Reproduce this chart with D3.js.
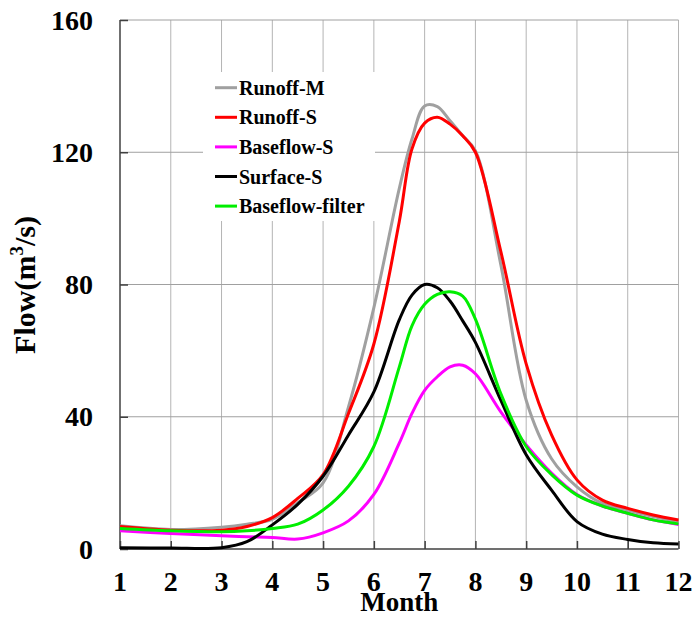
<!DOCTYPE html>
<meta charset="utf-8">
<style>
body { margin: 0; background: #fff; }
svg { display: block; background: #fff; }
text { font-family: "Liberation Serif", "Times New Roman", serif; font-weight: bold; fill: #000; }
.tick-label { font-size: 28px; }
.legend text { font-size: 20px; }
</style>
<body>
<div id="chart"></div>
<script src="https://cdn.jsdelivr.net/npm/d3@7"></script>
<script>
// months (x positions of the readings)
var months = [1, 2, 3, 3.5, 4, 4.5, 5, 5.5, 6, 6.5, 6.75, 7, 7.25, 7.5, 7.75, 8, 8.5, 9, 9.5, 10, 10.5, 11, 11.5, 12];

var runoffM        = [7.0, 5.9, 6.6, 7.5, 9.0, 14.0, 20.0, 43, 73, 109, 124, 134, 133.8, 129.5, 125, 120.5, 86, 45, 27.3, 18.8, 13.8, 11.8, 9.8, 8.3];
var runoffS        = [6.8, 5.7, 5.7, 6.8, 9.5, 15.3, 22.5, 41, 62, 99, 121, 128.8, 130.6, 128.5, 125, 120, 90, 56, 34.5, 20.9, 14.8, 12.3, 10.3, 8.8];
var baseflowS      = [5.5, 4.7, 4.0, 3.7, 3.5, 3.0, 4.9, 8.5, 16.5, 32, 41, 48, 52.1, 55.1, 55.6, 53, 41.5, 31.5, 23, 16.5, 13, 10.8, 8.8, 7.4];
var surfaceS       = [0.4, 0.3, 0.4, 2.2, 7.3, 13.5, 22, 34.5, 47.5, 69.3, 76.8, 80, 79, 75, 69, 62.5, 45, 28.5, 17.8, 8.3, 4.5, 2.9, 1.9, 1.5];
var baseflowFilter = [6.2, 5.5, 5.2, 5.5, 6.2, 7.5, 11.8, 19, 31, 55, 67.5, 74, 77, 77.8, 76.5, 69.5, 47, 31, 22.5, 16.3, 13, 10.8, 8.8, 7.6];

var seriesNames  = ["Runoff-M", "Runoff-S", "Baseflow-S", "Surface-S", "Baseflow-filter"];
var seriesColors = ["#a0a0a0", "#ff0000", "#ff00ff", "#000000", "#00ee00"];
var seriesValues = [runoffM, runoffS, baseflowS, surfaceS, baseflowFilter];

var xTicks = [1, 2, 3, 4, 5, 6, 7, 8, 9, 10, 11, 12];
var yTicks = [0, 40, 80, 120, 160];

var W = 695, H = 617;
var margin = {top: 20, right: 16.5, bottom: 68, left: 120};

var x = d3.scaleLinear().domain([1, 12]).range([margin.left, W - margin.right]);
var y = d3.scaleLinear().domain([0, 160]).range([H - margin.bottom, margin.top]);

var svg = d3.select("#chart").append("svg")
    .attr("width", W)
    .attr("height", H);

// grid
svg.append("g").selectAll("line")
    .data(xTicks.slice(1))
  .enter().append("line")
    .attr("x1", function(d) { return x(d); })
    .attr("x2", function(d) { return x(d); })
    .attr("y1", y(0))
    .attr("y2", y(160))
    .attr("stroke", "#b4b4b4")
    .attr("stroke-width", 1);

svg.append("g").selectAll("line")
    .data(yTicks.slice(1))
  .enter().append("line")
    .attr("x1", x(1))
    .attr("x2", x(12))
    .attr("y1", function(d) { return y(d); })
    .attr("y2", function(d) { return y(d); })
    .attr("stroke", "#a0a0a0")
    .attr("stroke-width", 1);

// legend box (white, hides grid behind it)
var legend = svg.append("g").attr("class", "legend");
legend.append("rect")
    .attr("x", 203).attr("y", 72)
    .attr("width", 172).attr("height", 149)
    .attr("fill", "#fff");

// axes, ticks pointing inward
var yAxis = d3.axisRight(y).tickValues(yTicks).tickSize(8).tickFormat("");
var xAxis = d3.axisTop(x).tickValues(xTicks).tickSize(8).tickFormat("");

svg.append("g")
    .attr("transform", "translate(" + x(1) + ",0)")
    .call(yAxis)
    .call(function(g) {
      g.select(".domain").attr("stroke", "#404040").attr("stroke-width", 1.5).attr("d", "M0," + y(0) + "V" + y(160));
      g.selectAll(".tick line").attr("stroke", "#404040").attr("stroke-width", 1.5);
    });

svg.append("g")
    .attr("transform", "translate(0," + y(0) + ")")
    .call(xAxis)
    .call(function(g) {
      g.select(".domain").attr("stroke", "#404040").attr("stroke-width", 1.5).attr("d", "M" + x(1) + ",0H" + x(12));
      g.selectAll(".tick line").attr("stroke", "#404040").attr("stroke-width", 1.5);
    });

// tick labels
svg.append("g").selectAll("text")
    .data(yTicks)
  .enter().append("text")
    .attr("class", "tick-label")
    .attr("x", 93)
    .attr("y", function(d) { return y(d) + 9.5; })
    .attr("text-anchor", "end")
    .text(function(d) { return d; });

svg.append("g").selectAll("text")
    .data(xTicks)
  .enter().append("text")
    .attr("class", "tick-label")
    .attr("x", function(d) { return x(d); })
    .attr("y", 591)
    .attr("text-anchor", "middle")
    .text(function(d) { return d; });

// axis titles
svg.append("text")
    .attr("x", (x(1) + x(12)) / 2)
    .attr("y", 611)
    .attr("text-anchor", "middle")
    .style("font-size", "27px")
    .text("Month");

var yTitle = svg.append("text")
    .attr("transform", "translate(35,285) rotate(-90)")
    .attr("text-anchor", "middle")
    .style("font-size", "30px");
yTitle.append("tspan").text("Flow(m");
yTitle.append("tspan").attr("dy", -12).style("font-size", "19px").text("3");
yTitle.append("tspan").attr("dy", 12).text("/s)");

// curves
var line = d3.line()
    .x(function(d) { return x(d[0]); })
    .y(function(d) { return y(d[1]); })
    .curve(d3.curveCatmullRom.alpha(0.5));

svg.append("g").selectAll("path")
    .data(seriesValues)
  .enter().append("path")
    .attr("fill", "none")
    .attr("stroke", function(d, i) { return seriesColors[i]; })
    .attr("stroke-width", 3)
    .attr("d", function(vals) { return line(months.map(function(m, j) { return [m, vals[j]]; })); });

// legend entries
var item = legend.selectAll(".item")
    .data(seriesNames)
  .enter().append("g")
    .attr("class", "item")
    .attr("transform", function(d, i) { return "translate(0," + (87.7 + i * 29.6) + ")"; });

item.append("line")
    .attr("x1", 215).attr("x2", 237)
    .attr("stroke", function(d, i) { return seriesColors[i]; })
    .attr("stroke-width", 3);

item.append("text")
    .attr("x", 239)
    .attr("y", 7)
    .text(function(d) { return d; });
</script>
</body>
